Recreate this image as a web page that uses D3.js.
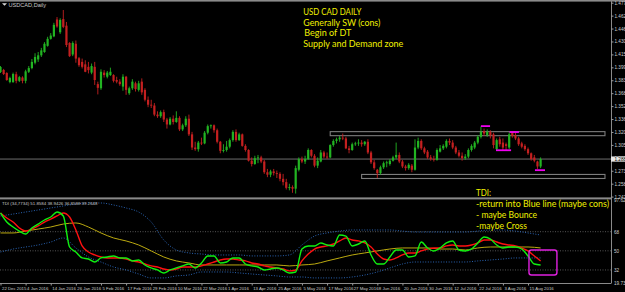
<!DOCTYPE html>
<html><head><meta charset="utf-8">
<script src="https://cdnjs.cloudflare.com/ajax/libs/d3/7.8.5/d3.min.js"></script>
<style>html,body{margin:0;padding:0;background:#000;overflow:hidden}svg{display:block}</style>
</head><body><svg id="c" width="625" height="292"></svg>
<script>
// ---------- DATA ----------
const dateLabels = ["22 Dec 2015","4 Jan 2016","14 Jan 2016","26 Jan 2016","5 Feb 2016","17 Feb 2016","29 Feb 2016","10 Mar 2016","22 Mar 2016","1 Apr 2016","13 Apr 2016","25 Apr 2016","5 May 2016","17 May 2016","27 May 2016","8 Jun 2016","20 Jun 2016","30 Jun 2016","12 Jul 2016","22 Jul 2016","3 Aug 2016","15 Aug 2016"];
const dateIdx = [0,8,16,24,32,40,48,56,64,72,80,88,96,104,112,120,128,136,144,152,160,168];

const open = [1.3937,1.3962,1.3925,1.3815,1.3815,1.3910,1.3830,1.3870,1.3830,1.3940,
1.3985,1.4050,1.4090,1.4140,1.4180,1.4255,1.4340,1.4370,1.4575,1.4420,
1.4580,1.4500,1.4290,1.4150,1.4280,1.4105,1.4060,1.4030,1.4000,1.3930,
1.4000,1.3790,1.3740,1.3930,1.3880,1.3900,1.3900,1.3840,1.3820,1.3760,
1.3880,1.3680,1.3740,1.3800,1.3720,1.3820,1.3720,1.3600,1.3540,1.3530,
1.3420,1.3400,1.3450,1.3360,1.3300,1.3370,1.3330,1.3380,1.3240,1.3290,
1.3370,1.3180,1.3020,1.3000,1.3080,1.3070,1.3200,1.3280,1.3290,1.3230,
1.3090,1.2980,1.2990,1.3030,1.3110,1.3210,1.3110,1.3180,1.3040,1.2990,
1.2860,1.2820,1.2890,1.2900,1.2850,1.2720,1.2690,1.2730,1.2710,1.2700,
1.2640,1.2600,1.2530,1.2540,1.2520,1.2750,1.2880,1.2850,1.2880,1.2990,
1.2920,1.2800,1.2850,1.2960,1.2910,1.2900,1.3050,1.3100,1.3120,1.3140,
1.3130,1.3010,1.2990,1.3060,1.3070,1.3080,1.3060,1.3090,1.2960,1.2840,
1.2750,1.2710,1.2780,1.2830,1.2820,1.2860,1.2900,1.2930,1.2850,1.2790,
1.2770,1.2800,1.2750,1.3020,1.3100,1.3010,1.2970,1.2900,1.2880,1.2870,
1.2970,1.3010,1.3030,1.3100,1.3080,1.3020,1.2960,1.2920,1.2890,1.2910,
1.2990,1.3020,1.3080,1.3150,1.3220,1.3170,1.3210,1.3180,1.3000,1.3120,
1.3080,1.3060,1.3020,1.3200,1.3170,1.3130,1.3070,1.3040,1.3000,1.2950,
1.2900,1.2850,1.2790];
const high = [1.4010,1.3975,1.3935,1.3880,1.3930,1.3940,1.3890,1.3885,1.3965,1.4010,
1.4095,1.4165,1.4180,1.4230,1.4300,1.4365,1.4410,1.4535,1.4605,1.4590,
1.4690,1.4545,1.4300,1.4310,1.4320,1.4120,1.4100,1.4080,1.4060,1.4040,
1.4060,1.3820,1.3970,1.3960,1.3950,1.3990,1.3910,1.3880,1.3850,1.3910,
1.3890,1.3760,1.3850,1.3820,1.3830,1.3860,1.3740,1.3640,1.3600,1.3560,
1.3460,1.3470,1.3480,1.3380,1.3390,1.3410,1.3460,1.3400,1.3310,1.3400,
1.3420,1.3210,1.3090,1.3100,1.3140,1.3220,1.3300,1.3300,1.3300,1.3250,
1.3100,1.3060,1.3100,1.3130,1.3230,1.3240,1.3200,1.3190,1.3060,1.3000,
1.2900,1.2920,1.2930,1.2920,1.2870,1.2760,1.2750,1.2760,1.2740,1.2720,
1.2700,1.2640,1.2580,1.2560,1.2800,1.2900,1.2910,1.2920,1.3010,1.3000,
1.2940,1.2900,1.2990,1.2980,1.2960,1.3060,1.3120,1.3140,1.3160,1.3190,
1.3150,1.3040,1.3080,1.3090,1.3120,1.3110,1.3100,1.3120,1.2980,1.2870,
1.2760,1.2800,1.2850,1.2860,1.2880,1.2920,1.3080,1.2960,1.2870,1.2810,
1.2830,1.2820,1.3120,1.3140,1.3120,1.3030,1.2990,1.2930,1.2920,1.3010,
1.3050,1.3060,1.3120,1.3130,1.3110,1.3040,1.2990,1.2960,1.2940,1.3010,
1.3060,1.3100,1.3170,1.3275,1.3250,1.3240,1.3230,1.3200,1.3130,1.3150,
1.3130,1.3080,1.3205,1.3210,1.3200,1.3150,1.3090,1.3060,1.3020,1.2960,
1.2930,1.2860,1.2900];
const low = [1.3925,1.3900,1.3830,1.3800,1.3805,1.3800,1.3815,1.3800,1.3800,1.3925,
1.3970,1.4030,1.4060,1.4120,1.4170,1.4245,1.4330,1.4360,1.4475,1.4400,
1.4470,1.4240,1.4120,1.4130,1.4050,1.4000,1.3980,1.3935,1.3920,1.3910,
1.3780,1.3665,1.3720,1.3870,1.3860,1.3890,1.3810,1.3800,1.3770,1.3710,
1.3660,1.3660,1.3720,1.3700,1.3700,1.3660,1.3580,1.3510,1.3500,1.3400,
1.3380,1.3380,1.3330,1.3250,1.3290,1.3300,1.3320,1.3220,1.3220,1.3270,
1.3160,1.2990,1.2980,1.2970,1.3050,1.3060,1.3180,1.3250,1.3200,1.3070,
1.2950,1.2960,1.2970,1.3010,1.3090,1.3090,1.3100,1.3030,1.2970,1.2850,
1.2790,1.2810,1.2830,1.2830,1.2700,1.2660,1.2660,1.2680,1.2650,1.2610,
1.2560,1.2510,1.2500,1.2470,1.2461,1.2730,1.2830,1.2820,1.2870,1.2900,
1.2780,1.2770,1.2840,1.2890,1.2880,1.2890,1.3030,1.3070,1.3090,1.3110,
1.3000,1.2950,1.2980,1.3040,1.3040,1.3030,1.3040,1.2940,1.2820,1.2750,
1.2650,1.2690,1.2760,1.2780,1.2800,1.2850,1.2880,1.2830,1.2770,1.2740,
1.2750,1.2720,1.2740,1.3000,1.2990,1.2940,1.2880,1.2860,1.2850,1.2860,
1.2960,1.2990,1.3010,1.3050,1.3000,1.2940,1.2900,1.2860,1.2870,1.2890,
1.2970,1.3000,1.3060,1.3130,1.3160,1.3150,1.3130,1.3010,1.2985,1.3030,
1.2990,1.2985,1.3000,1.3140,1.3110,1.3040,1.3010,1.2980,1.2930,1.2860,
1.2840,1.2760,1.2770];
const close = [1.3998,1.3913,1.3840,1.3864,1.3913,1.3830,1.3875,1.3830,1.3945,1.3985,
1.4060,1.4120,1.4140,1.4200,1.4280,1.4340,1.4380,1.4510,1.4490,1.4570,
1.4485,1.4265,1.4130,1.4290,1.4100,1.4020,1.4000,1.3940,1.3960,1.4010,
1.3840,1.3745,1.3940,1.3900,1.3930,1.3940,1.3830,1.3820,1.3790,1.3880,
1.3720,1.3740,1.3820,1.3730,1.3800,1.3690,1.3600,1.3540,1.3530,1.3420,
1.3400,1.3450,1.3360,1.3300,1.3370,1.3330,1.3380,1.3240,1.3290,1.3370,
1.3180,1.3020,1.3000,1.3080,1.3070,1.3200,1.3280,1.3290,1.3230,1.3090,
1.2980,1.2990,1.3030,1.3110,1.3210,1.3110,1.3180,1.3040,1.2990,1.2860,
1.2820,1.2890,1.2900,1.2850,1.2720,1.2690,1.2730,1.2710,1.2700,1.2640,
1.2600,1.2530,1.2540,1.2520,1.2770,1.2880,1.2850,1.2880,1.2990,1.2920,
1.2800,1.2860,1.2960,1.2910,1.2900,1.3050,1.3100,1.3120,1.3140,1.3130,
1.3010,1.2990,1.3060,1.3070,1.3080,1.3060,1.3090,1.2960,1.2840,1.2770,
1.2710,1.2780,1.2830,1.2840,1.2860,1.2900,1.2930,1.2850,1.2790,1.2770,
1.2810,1.2750,1.3020,1.3100,1.3010,1.2960,1.2900,1.2880,1.2870,1.2990,
1.3010,1.3040,1.3100,1.3080,1.3020,1.2960,1.2920,1.2890,1.2910,1.2990,
1.3040,1.3080,1.3150,1.3210,1.3190,1.3210,1.3170,1.3050,1.3110,1.3060,
1.3020,1.3040,1.3180,1.3160,1.3130,1.3060,1.3030,1.3000,1.2950,1.2880,
1.2860,1.2790,1.2880];

const priceTicks = [1.4779,1.4622,1.4465,1.4308,1.4151,1.3994,1.3837,1.3680,1.3523,1.3366,1.3209,1.3052,1.2895,1.2738,1.2581,1.2424];

// supply / demand zones (bar index from/to, price high/low)
const zoneFrom = [105, 115];
const zoneTo = [192.5, 192.5];
const zoneHigh = [1.3213, 1.2693];
const zoneLow = [1.3164, 1.2644];
// magenta marks
const markFrom = [153, 157.8, 162.1, 170.2];
const markTo = [155.9, 162.6, 165.1, 173.4];
const markPrice = [1.3280, 1.2987, 1.3208, 1.2745];

// TDI (green & red: every 2 bars; yellow & bands: every 4 bars)
const tdiGreen = [85.6,77.1,72.4,68.6,65.8,71.5,75.2,79.0,81.8,86.5,82.8,53.6,48.9,43.3,42.3,39.5,43.3,44.2,45.2,43.3,43.3,40.5,41.4,36.7,33.9,32.0,29.2,32.0,33.9,35.8,37.6,33.9,38.6,45.2,45.2,38.6,39.5,43.3,43.3,37.6,35.8,34.8,32.0,32.9,33.9,32.0,29.2,30.1,51.7,54.6,54.6,57.4,55.5,54.6,64.9,63.9,54.6,56.4,59.3,46.1,37.6,37.6,44.2,50.8,50.8,44.2,45.2,58.3,52.7,49.9,52.7,57.4,59.3,50.8,49.9,51.7,57.4,63.0,61.1,55.5,52.7,53.6,53.6,51.7,45.2,37.6,36.7];
const tdiRed = [85.6,80.9,77.1,71.5,68.6,70.5,73.4,77.1,79.9,82.8,85.6,81.8,69.6,54.6,48.9,46.1,44.2,43.3,43.3,43.3,42.3,40.5,39.5,37.6,35.8,34.8,32.9,32.0,32.9,34.8,34.8,34.8,35.8,37.6,39.5,41.4,42.3,42.3,41.4,40.5,38.6,37.6,35.8,34.8,33.9,32.9,31.1,32.0,40.5,47.0,51.7,53.6,54.6,56.4,59.3,62.1,60.2,59.3,57.4,53.6,47.0,42.3,41.4,43.3,46.1,48.0,48.0,49.9,51.7,52.7,52.7,54.6,55.5,54.6,54.6,55.5,57.4,60.2,60.2,58.3,56.4,55.5,54.6,52.7,49.9,45.2,40.5];
const tdiYellow = [66.8,66.8,68.6,70.5,72.4,75.2,76.2,72.4,66.8,62.1,59.3,55.5,49.9,44.2,40.5,38.6,36.7,36.7,36.7,36.7,36.7,36.7,36.7,35.8,36.7,37.6,40.5,43.3,46.1,48.0,49.9,51.7,52.7,52.7,52.7,51.7,51.7,50.8,52.7,53.6,53.6,53.6,53.6,52.7];
const tdiUpper = [82.8,84.6,86.5,88.4,90.3,92.2,94.0,95.0,95.0,93.1,90.3,86.5,77.1,60.2,50.8,48.0,47.0,46.1,46.1,46.1,45.2,45.2,45.2,46.1,55.5,63.9,66.8,68.6,69.6,69.6,69.6,69.6,68.6,67.7,67.7,67.7,67.7,67.7,68.6,69.6,69.6,68.6,66.8,64.9];
const tdiLower = [48.9,51.7,53.6,55.5,58.3,62.1,52.7,44.2,39.5,34.8,32.0,28.2,24.5,24.5,26.4,27.3,30.1,30.1,30.1,29.2,28.2,27.3,26.4,25.4,25.4,24.5,24.5,24.5,25.4,27.3,30.1,33.9,37.6,39.5,39.5,39.5,39.5,39.5,40.5,41.4,42.3,43.3,43.3,43.3];
const tdiLevels = [68, 50, 32];
const tdiTicks = [97.6222, 68, 50, 32, 19.7358];
const tdiBoxFrom = 168.3, tdiBoxTo = 177.2, tdiBoxHigh = 50.8, tdiBoxLow = 27.3;

const notesMain = ["USD CAD DAILY","Generally SW (cons)","Begin of DT","Supply and Demand zone"];
const notesTdi = ["TDI:","-return into Blue line (maybe cons)","- maybe Bounce","-maybe Cross"];

// ---------- DRAW ----------
const W = 625, H = 292, axisX = 611;
const svg = d3.select('#c');
svg.append('rect').attr('width', W).attr('height', H).attr('fill', '#000');

const x = d3.scaleLinear().domain([0, 172]).range([0.5, 540.6]);
const y = d3.scaleLinear().domain([1.2424, 1.4779]).range([196.6, 2.7]);
const yt = d3.scaleLinear().domain([19.7358, 97.6222]).range([283, 200.2]);

const defs = svg.append('defs');
defs.append('clipPath').attr('id', 'cm').append('rect').attr('x', 0).attr('y', 2).attr('width', axisX).attr('height', 195);
defs.append('clipPath').attr('id', 'cs').append('rect').attr('x', 0).attr('y', 200).attr('width', axisX).attr('height', 83);

const bull = '#22b422', bear = '#c42020';
const bars = d3.range(close.length).map(i => ({i, o: open[i], h: high[i], l: low[i], c: close[i]}));

const main = svg.append('g').attr('clip-path', 'url(#cm)');

// current price line
const last = close[close.length - 1];
main.append('line').attr('x1', 0).attr('x2', axisX).attr('y1', y(last)).attr('y2', y(last))
  .attr('stroke', '#6e6e6e').attr('stroke-width', 1);

// zones
main.selectAll('rect.zone').data(d3.range(zoneFrom.length)).join('rect').attr('class', 'zone')
  .attr('x', k => x(zoneFrom[k])).attr('width', k => x(zoneTo[k]) - x(zoneFrom[k]))
  .attr('y', k => y(zoneHigh[k])).attr('height', k => y(zoneLow[k]) - y(zoneHigh[k]))
  .attr('fill', 'none').attr('stroke', '#7c7c7c').attr('stroke-width', 1.1);

// candles
main.selectAll('line.wick').data(bars).join('line').attr('class', 'wick')
  .attr('x1', d => x(d.i)).attr('x2', d => x(d.i))
  .attr('y1', d => y(Math.max(d.h, d.o, d.c))).attr('y2', d => y(Math.min(d.l, d.o, d.c)))
  .attr('stroke', d => d.c >= d.o ? bull : bear).attr('stroke-width', 0.9);
main.selectAll('rect.body').data(bars).join('rect').attr('class', 'body')
  .attr('x', d => x(d.i) - 1.1).attr('width', 2.2)
  .attr('y', d => y(Math.max(d.o, d.c)))
  .attr('height', d => Math.max(0.9, Math.abs(y(d.o) - y(d.c))))
  .attr('fill', d => d.c >= d.o ? bull : bear);

// magenta marks
main.selectAll('line.mark').data(d3.range(markFrom.length)).join('line').attr('class', 'mark')
  .attr('x1', k => x(markFrom[k])).attr('x2', k => x(markTo[k]))
  .attr('y1', k => y(markPrice[k])).attr('y2', k => y(markPrice[k]))
  .attr('stroke', '#f000f0').attr('stroke-width', 1.8);

// frame
svg.append('rect').attr('x', 0).attr('y', 0).attr('width', W).attr('height', 1.6).attr('fill', '#8a8a8a');
svg.append('rect').attr('x', 0).attr('y', 197.4).attr('width', axisX).attr('height', 2).attr('fill', '#8a8a8a');
svg.append('line').attr('x1', 0).attr('x2', axisX).attr('y1', 283.5).attr('y2', 283.5).attr('stroke', '#8a8a8a').attr('stroke-width', 1);

// price axis
const pa = svg.append('g').attr('transform', `translate(${axisX},0)`)
  .call(d3.axisRight(y).tickValues(priceTicks).tickSize(2.5).tickPadding(1).tickFormat(d3.format('.5f')));
pa.select('.domain').attr('stroke', '#8a8a8a').attr('d', 'M0.5,0V283.5');
pa.selectAll('.tick line').attr('stroke', '#9a9a9a');
pa.selectAll('text').attr('fill', '#cfcfcf').attr('font-size', '4.6px').attr('font-family', 'Liberation Sans, Arial, sans-serif');

// current price label
svg.append('rect').attr('x', axisX).attr('y', y(last) - 2.6).attr('width', W - axisX).attr('height', 5.2).attr('fill', '#e8e8e8');
svg.append('text').attr('x', axisX + 3.5).attr('y', y(last) + 1.6).text(last.toFixed(5))
  .attr('fill', '#000').attr('font-size', '4.6px').attr('font-family', 'Liberation Sans, Arial, sans-serif');

// TDI sub window
const sub = svg.append('g').attr('clip-path', 'url(#cs)');
sub.selectAll('line.lvl').data(tdiLevels).join('line').attr('class', 'lvl')
  .attr('x1', 0).attr('x2', axisX).attr('y1', d => yt(d)).attr('y2', d => yt(d))
  .attr('stroke', '#6a6a6a').attr('stroke-width', 0.8).attr('stroke-dasharray', '1,1.5');

const line2 = d3.line().x((d, k) => x(k * 2)).y(d => yt(d)).curve(d3.curveMonotoneX);
const line4 = d3.line().x((d, k) => x(k * 4)).y(d => yt(d)).curve(d3.curveMonotoneX);
sub.append('path').datum(tdiUpper).attr('d', line4).attr('fill', 'none').attr('stroke', '#2a64b4').attr('stroke-width', 1).attr('stroke-dasharray', '1,1.6');
sub.append('path').datum(tdiLower).attr('d', line4).attr('fill', 'none').attr('stroke', '#2a64b4').attr('stroke-width', 1).attr('stroke-dasharray', '1,1.6');
sub.append('path').datum(tdiYellow).attr('d', line4).attr('fill', 'none').attr('stroke', '#bcaa10').attr('stroke-width', 1);
sub.append('path').datum(tdiRed).attr('d', line2).attr('fill', 'none').attr('stroke', '#ff1010').attr('stroke-width', 1.4);
sub.append('path').datum(tdiGreen).attr('d', line2).attr('fill', 'none').attr('stroke', '#10f010').attr('stroke-width', 1.4);

// TDI box
sub.append('rect').attr('x', x(tdiBoxFrom)).attr('y', yt(tdiBoxHigh))
  .attr('width', x(tdiBoxTo) - x(tdiBoxFrom)).attr('height', yt(tdiBoxLow) - yt(tdiBoxHigh))
  .attr('rx', 2.5).attr('fill', 'none').attr('stroke', '#e020e0').attr('stroke-width', 1.4);

// TDI axis labels
const ta = svg.append('g').attr('transform', `translate(${axisX},0)`)
  .call(d3.axisRight(yt).tickValues(tdiTicks).tickSize(0).tickPadding(3)
    .tickFormat(d => Number.isInteger(d) ? String(d) : d.toFixed(4)));
ta.select('.domain').remove();
ta.selectAll('text').attr('fill', '#cfcfcf').attr('font-size', '4.6px').attr('font-family', 'Liberation Sans, Arial, sans-serif');

// date axis
const da = svg.append('g').attr('transform', 'translate(0,283.5)')
  .call(d3.axisBottom(x).tickValues(dateIdx).tickSize(2).tickPadding(1.5).tickFormat((d, k) => dateLabels[k]));
da.select('.domain').remove();
da.selectAll('.tick line').attr('stroke', '#9a9a9a');
da.selectAll('text').attr('text-anchor', 'start').attr('dx', 1).attr('fill', '#cfcfcf')
  .attr('font-size', '4.3px').attr('font-family', 'Liberation Sans, Arial, sans-serif');

// headers
svg.append('path').attr('d', 'M2,3.2 h5 l-2.5,2.6 z').attr('fill', '#d8d8d8');
svg.append('text').attr('x', 8.5).attr('y', 6.6).text('USDCAD,Daily')
  .attr('fill', '#c8c8c8').attr('font-size', '5.6px').attr('font-family', 'Liberation Sans, Arial, sans-serif');
svg.append('text').attr('x', 2).attr('y', 204.6).text('TDI (34,7734) 51.8584 38.9426 36.8588 39.2648')
  .attr('fill', '#c8c8c8').attr('font-size', '4.4px').attr('font-family', 'Liberation Sans, Arial, sans-serif');

// annotations
const mainPos = [[303.3, 15.0, 58], [303.3, 25.5, 77], [304.3, 36.0, 47], [303.3, 47.3, 100]];
svg.selectAll('text.nm').data(notesMain).join('text').attr('class', 'nm')
  .attr('x', (d, k) => mainPos[k][0]).attr('y', (d, k) => mainPos[k][1])
  .attr('textLength', (d, k) => mainPos[k][2]).attr('lengthAdjust', 'spacingAndGlyphs')
  .text(d => d).attr('fill', '#f0f000').attr('font-size', '9.4px').attr('font-family', 'Lato, Liberation Sans, sans-serif');
const tdiPos = [[476, 196.0, 15], [476, 207.3, 133], [476, 218.3, 61], [476, 229.3, 51]];
svg.selectAll('text.nt').data(notesTdi).join('text').attr('class', 'nt')
  .attr('x', (d, k) => tdiPos[k][0]).attr('y', (d, k) => tdiPos[k][1])
  .attr('textLength', (d, k) => tdiPos[k][2]).attr('lengthAdjust', 'spacingAndGlyphs')
  .text(d => d).attr('fill', '#f0f000').attr('font-size', '9.4px').attr('font-family', 'Lato, Liberation Sans, sans-serif');
</script>
</body></html>
